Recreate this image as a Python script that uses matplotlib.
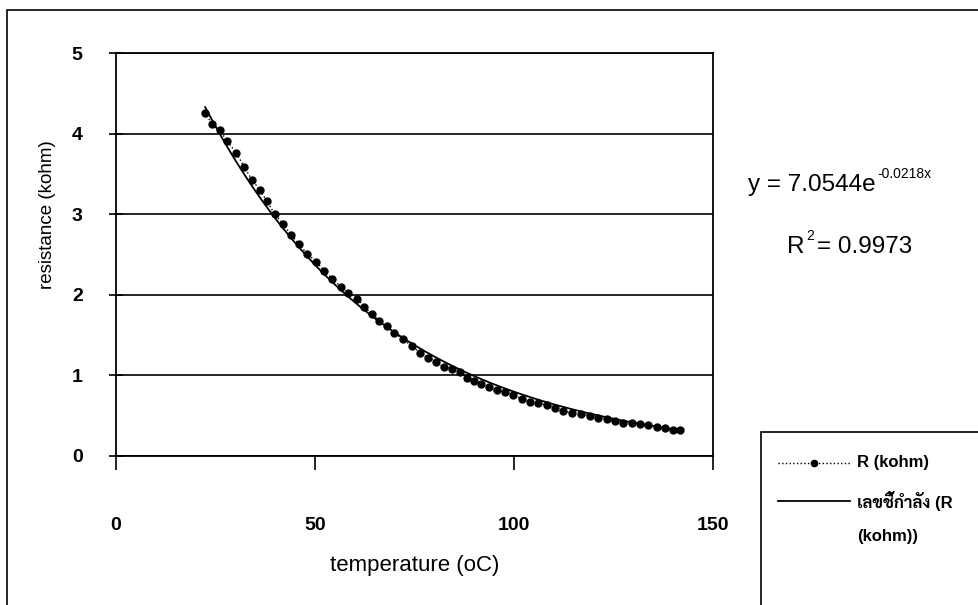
import numpy as np
import matplotlib
matplotlib.use('Agg')
import matplotlib.pyplot as plt
from matplotlib import font_manager
from matplotlib.ft2font import FT2Font
from matplotlib.patches import Rectangle
from matplotlib.lines import Line2D

# data
temperature = [22.4, 24.1, 26.1, 27.9, 30.2, 32.2, 34.2, 36.2, 37.9, 39.9,
               42.0, 44.0, 46.0, 48.0, 50.3, 52.3, 54.3, 56.5, 58.3, 60.6,
               62.4, 64.3, 66.1, 68.0, 69.8, 72.1, 74.4, 76.4, 78.4, 80.4,
               82.4, 84.4, 86.4, 88.2, 89.9, 91.7, 93.6, 95.7, 97.7, 99.7,
               102.0, 104.0, 106.0, 108.3, 110.3, 112.3, 114.6, 116.8, 119.0, 121.0,
               123.4, 125.4, 127.4, 129.6, 131.7, 133.7, 135.9, 137.9, 139.9, 141.7]
resistance = [4.26, 4.12, 4.04, 3.91, 3.76, 3.59, 3.42, 3.30, 3.16, 3.00,
              2.88, 2.74, 2.63, 2.51, 2.41, 2.30, 2.20, 2.10, 2.02, 1.95,
              1.85, 1.76, 1.68, 1.61, 1.53, 1.45, 1.36, 1.28, 1.22, 1.17,
              1.10, 1.08, 1.04, 0.97, 0.93, 0.89, 0.86, 0.82, 0.79, 0.76,
              0.71, 0.67, 0.66, 0.63, 0.60, 0.56, 0.53, 0.52, 0.50, 0.47,
              0.46, 0.43, 0.41, 0.41, 0.40, 0.38, 0.36, 0.35, 0.32, 0.32]

# exponential trendline shown on the chart
fit_a = 7.0544
fit_b = -0.0218
fit_r2 = 0.9973

x_ticks = [0, 50, 100, 150]
y_ticks = [0, 1, 2, 3, 4, 5]
series_label = 'R (kohm)'
trend_label = ['เลขชี้กำลัง (R', '(kohm))']


# pick an installed family that has Thai glyphs
def thai_family():
    have = set()
    for f in font_manager.fontManager.ttflist:
        try:
            cm = FT2Font(f.fname).get_charmap()
        except Exception:
            continue
        if 0x0E01 in cm and 0x0E35 in cm:
            have.add(f.name)
    for name in ['Sarabun', 'Noto Sans Thai Looped', 'Noto Sans Thai',
                 'Bai Jamjuree', 'Athiti']:
        if name in have:
            return name
    return sorted(have)[0] if have else 'DejaVu Sans'


thai = thai_family()
plt.rcParams['font.family'] = ['Liberation Sans', 'DejaVu Sans']

W, H = 979, 605
fig = plt.figure(figsize=(W / 100, H / 100), dpi=100)

# outer chart frame (cut off at right and bottom)
fig.patches.append(Rectangle((7 / W, -0.05), 1.1, 1 - 10 / H + 0.05,
                             transform=fig.transFigure, fill=False,
                             edgecolor='black', linewidth=1.2))

ax = fig.add_axes([116 / W, 1 - 456 / H, (713 - 116) / W, (456 - 53) / H])

ax.plot(temperature, resistance, linestyle=':', color='black', marker='o',
        markersize=5, linewidth=1)
xt = np.linspace(temperature[0], temperature[-1], 200)
ax.plot(xt, fit_a * np.exp(fit_b * xt), color='black', linewidth=1.3)

ax.set_xlim(0, 150)
ax.set_ylim(0, 5)
ax.set_xticks(x_ticks)
ax.set_yticks(y_ticks)
ax.grid(axis='y', color='black', linewidth=1.2)
for s in ax.spines.values():
    s.set_color('black')
    s.set_linewidth(1.3)

ax.tick_params(axis='x', direction='out', length=10, width=1.2, pad=34, labelsize=14)
ax.tick_params(axis='y', direction='inout', length=10, width=1.2, pad=19, labelsize=14)
for lab in ax.get_xticklabels() + ax.get_yticklabels():
    lab.set_fontweight('bold')

ax.set_xlabel('temperature (oC)', fontsize=16)
ax.set_ylabel('resistance (kohm)', fontsize=13.5)
ax.xaxis.set_label_coords(0.5, -0.245)
ax.yaxis.set_label_coords(-0.1, 0.6)

# trendline equation and R squared
t_eq = fig.text(748 / W, 1 - 185 / H, 'y = 7.0544e', fontsize=17.5, va='center', ha='left')
ax.annotate('%.4fx' % fit_b, xy=(1, 1), xycoords=t_eq, xytext=(1, 0),
            textcoords='offset points', fontsize=10, va='center', ha='left',
            annotation_clip=False)
t_r = fig.text(787 / W, 1 - 247 / H, 'R', fontsize=17.5, va='center', ha='left')
ax.annotate('2', xy=(1, 1), xycoords=t_r, xytext=(1, 0),
            textcoords='offset points', fontsize=10, va='center', ha='left',
            annotation_clip=False)
ax.annotate('= %.4f' % fit_r2, xy=(1, 0.5), xycoords=t_r, xytext=(9, 0),
            textcoords='offset points', fontsize=17.5, va='center', ha='left',
            annotation_clip=False)

# legend box sitting in the lower right corner, cut by the picture edge
fig.patches.append(Rectangle((761 / W, -0.05), 0.5, 1 - 432 / H + 0.05,
                             transform=fig.transFigure, fill=False,
                             edgecolor='black', linewidth=1.2))
x0, x1, xt0 = 778 / W, 850 / W, 857 / W
ya, yb, yc = 1 - 463 / H, 1 - 501 / H, 1 - 537 / H
fig.add_artist(Line2D([x0, x1], [ya, ya], transform=fig.transFigure,
                      linestyle=':', color='black', linewidth=1))
fig.add_artist(Line2D([(x0 + x1) / 2], [ya], transform=fig.transFigure,
                      marker='o', markersize=4.5, color='black'))
fig.text(xt0, ya, series_label, fontsize=12, fontweight='bold', va='center', ha='left')
fig.add_artist(Line2D([x0, x1], [yb, yb], transform=fig.transFigure,
                      color='black', linewidth=1.3))
fig.text(xt0, yb, trend_label[0], fontsize=12, fontweight='bold', va='center',
         ha='left', family=['Liberation Sans', thai])
fig.text(xt0, yc, trend_label[1], fontsize=12, fontweight='bold', va='center', ha='left')

fig.savefig('out.png', dpi=100)
